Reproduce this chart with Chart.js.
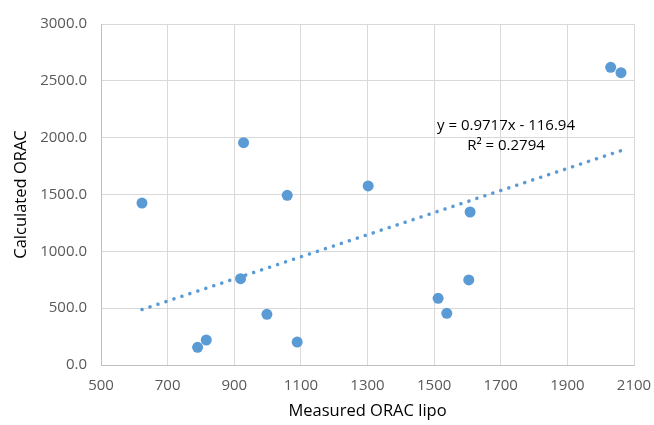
<!DOCTYPE html>
<html>
<head>
<meta charset="utf-8">
<script src="https://cdn.jsdelivr.net/npm/chart.js@4.4.0/dist/chart.umd.min.js"></script>
<style>
  body { margin: 0; background: #fff; }
  #wrap { width: 654px; height: 425px; }
</style>
</head>
<body>
<div id="wrap"><canvas id="chart" width="654" height="425"></canvas></div>
<script>
// values
const measured = [623, 928, 1059, 2030, 2061, 1302, 1608, 790, 816, 919, 998, 1089, 1512, 1538, 1604];
const calculated = [1425, 1956, 1493, 2619, 2572, 1575, 1346, 156, 220, 759, 446, 202, 587, 455, 748];
// linear trendline ends (as drawn in the reference)
const trendX = [623, 2061];
const trendY = [488, 1886];
const equationText = ['y = 0.9717x - 116.94', 'R² = 0.2794'];
const xTitle = 'Measured ORAC lipo';
const yTitle = 'Calculated ORAC';

const blue = '#5B9BD5';
const font = '"Open Sans", sans-serif';

const labelsPlugin = {
  id: 'labels',
  afterDraw(chart) {
    const ctx = chart.ctx;
    const area = chart.chartArea;
    ctx.save();
    ctx.fillStyle = '#000';
    ctx.textAlign = 'center';
    ctx.textBaseline = 'middle';
    ctx.font = '15px ' + font;
    ctx.fillText(equationText[0], 506, 126);
    ctx.fillText(equationText[1], 506, 146);
    ctx.font = '16.5px ' + font;
    ctx.fillText(xTitle, (area.left + area.right) / 2, 411);
    ctx.translate(21, (area.top + area.bottom) / 2);
    ctx.rotate(-Math.PI / 2);
    ctx.fillText(yTitle, 0, 0);
    ctx.restore();
  }
};

new Chart(document.getElementById('chart'), {
  type: 'scatter',
  data: {
    datasets: [
      {
        label: 'data',
        data: measured.map((x, i) => ({ x: x, y: calculated[i] })),
        backgroundColor: blue,
        borderColor: blue,
        pointRadius: 5.5,
        pointHoverRadius: 5.5,
        borderWidth: 0
      },
      {
        label: 'trend',
        type: 'line',
        data: trendX.map((x, i) => ({ x: x, y: trendY[i] })),
        borderColor: blue,
        borderWidth: 3.5,
        borderDash: [0.1, 8.3],
        borderCapStyle: 'round',
        pointRadius: 0,
        fill: false
      }
    ]
  },
  options: {
    responsive: false,
    animation: false,
    layout: { padding: { top: 24, right: 20, left: 0, bottom: 0 } },
    plugins: { legend: { display: false }, tooltip: { enabled: false } },
    scales: {
      x: {
        type: 'linear',
        min: 500, max: 2100,
        afterFit(scale) {
          scale.height = 60;
          scale.paddingLeft = 0;
          scale.paddingRight = 0;
        },
        ticks: {
          stepSize: 200, color: '#595959', font: { family: font, size: 15 }, padding: 12,
          callback: v => String(v)
        },
        grid: { color: '#D9D9D9', drawTicks: false },
        border: { color: '#BFBFBF' }
      },
      y: {
        min: 0, max: 3000,
        afterFit(scale) { scale.width = 101; },
        ticks: {
          stepSize: 500, color: '#595959', font: { family: font, size: 15 }, padding: 14,
          callback: v => v.toFixed(1)
        },
        grid: { color: '#D9D9D9', drawTicks: false },
        border: { color: '#BFBFBF' }
      }
    }
  },
  plugins: [labelsPlugin]
});
</script>
</body>
</html>
